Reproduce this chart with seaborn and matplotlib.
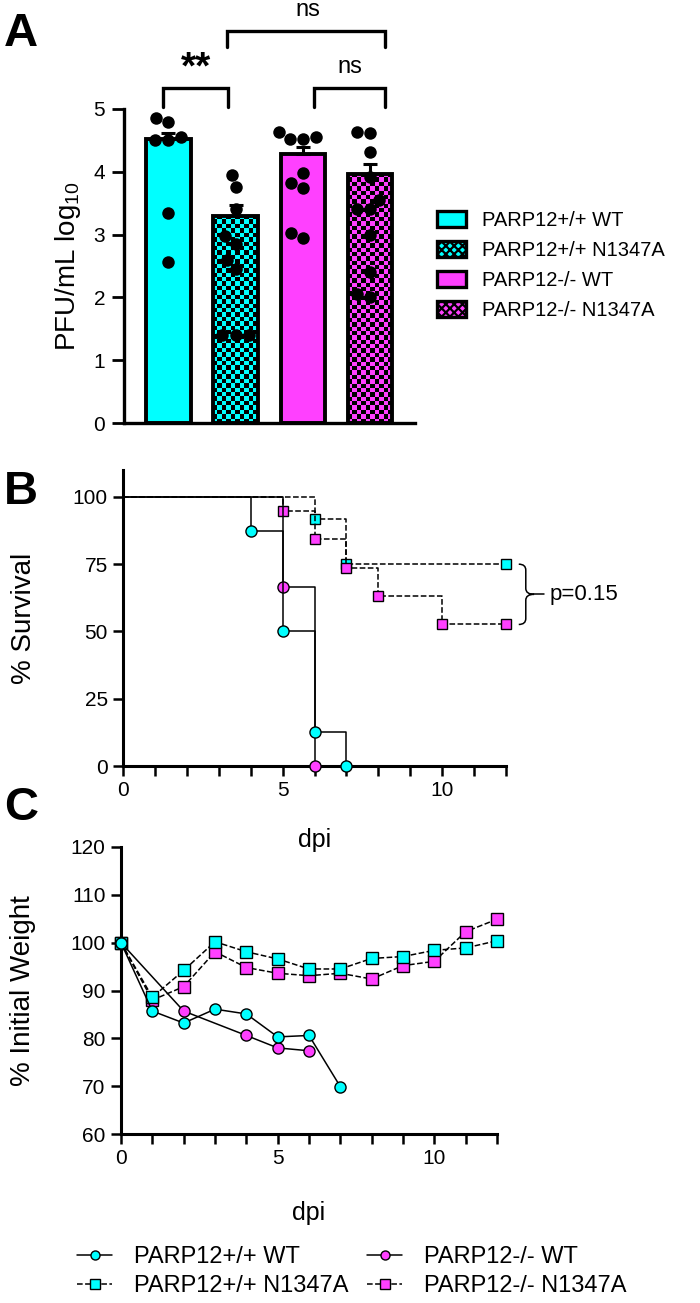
import numpy as np
import matplotlib

matplotlib.use("Agg")

import matplotlib.pyplot as plt
import seaborn as sns
from matplotlib.colors import ListedColormap
from matplotlib.lines import Line2D
from matplotlib.patches import Patch, PathPatch
from matplotlib.path import Path

sns.set_style("ticks")
plt.rcParams["font.family"] = ["Liberation Sans", "DejaVu Sans"]
plt.rcParams["mathtext.default"] = "regular"
plt.rcParams["hatch.linewidth"] = 1.6
for key in ("text.color", "axes.labelcolor", "xtick.color", "ytick.color", "axes.edgecolor"):
    plt.rcParams[key] = "black"

CYAN = "#00FFFF"
MAGENTA = "#FF40FF"

# Panel A: viral titers
groups = ["PARP12+/+ WT", "PARP12+/+ N1347A", "PARP12-/- WT", "PARP12-/- N1347A"]
bar_colors = [CYAN, CYAN, MAGENTA, MAGENTA]
bar_checker = [False, True, False, True]
bar_means = [4.52, 3.30, 4.28, 3.97]
bar_sem = [0.10, 0.17, 0.12, 0.15]
pts_wt = [4.85, 4.80, 4.55, 4.50, 4.50, 3.34, 2.57]
pts_wt_mut = [3.95, 3.76, 3.40, 2.97, 2.85, 2.60, 2.45, 1.40, 1.40, 1.40]
pts_ko = [4.64, 4.56, 4.53, 4.52, 3.98, 3.82, 3.74, 3.02, 2.94]
pts_ko_mut = [4.64, 4.61, 4.32, 3.92, 3.55, 3.40, 3.40, 3.00, 2.40, 2.05, 2.00]

# Panel B: Kaplan-Meier survival
surv_wt_day = [0, 4, 5, 6, 7]
surv_wt_pct = [100, 87.5, 50, 12.5, 0]
surv_ko_day = [0, 5, 6]
surv_ko_pct = [100, 66.7, 0]
surv_wt_mut_day = [0, 6, 7, 12]
surv_wt_mut_pct = [100, 91.7, 75, 75]
surv_ko_mut_day = [0, 5, 6, 7, 8, 10, 12]
surv_ko_mut_pct = [100, 94.7, 84.2, 73.7, 63.2, 52.6, 52.6]

# Panel C: weight loss
wt_day = [0, 1, 2, 3, 4, 5, 6, 7]
wt_weight = [100, 85.7, 83.2, 86.1, 85.1, 80.3, 80.6, 69.9]
ko_day = [0, 2, 4, 5, 6]
ko_weight = [100, 85.7, 80.6, 78.0, 77.4]
wt_mut_day = [0, 1, 2, 3, 4, 5, 6, 7, 8, 9, 10, 11, 12]
wt_mut_weight = [100, 88.6, 94.2, 100.2, 98.1, 96.6, 94.5, 94.5, 96.7, 97.1, 98.4, 98.9, 100.4]
ko_mut_day = [0, 1, 2, 3, 4, 5, 6, 7, 8, 9, 10, 11, 12]
ko_mut_weight = [100, 88.0, 90.8, 98.1, 94.8, 93.6, 93.1, 93.6, 92.4, 95.2, 96.1, 102.3, 104.9]

W, H = 700, 1303
fig = plt.figure(figsize=(W / 100, H / 100), dpi=100)


def axes_px(left, right, top, bottom):
    ax = fig.add_axes([left / W, 1 - bottom / H, (right - left) / W, (bottom - top) / H])
    ax.patch.set_visible(False)
    return ax


TICK_FS = 15
LABEL_FS = 20

# ---------------- Panel A ----------------
ax_a = axes_px(124, 415, 109, 423)
sns.barplot(x=groups, y=bar_means, hue=groups, palette=bar_colors, order=groups,
            legend=False, errorbar=None, edgecolor="black", linewidth=2.8,
            width=0.66, saturation=1, ax=ax_a)
bars = list(ax_a.patches[:4])
for bar, color, checker in zip(bars, bar_colors, bar_checker):
    bar.set_zorder(2)
    if checker:
        x0, y0, w, h = bar.get_x(), bar.get_y(), bar.get_width(), bar.get_height()
        ncol = int(round(w * 67 / 4.4))
        nrow = int(round(h * 62.8 / 4.4))
        board = np.add.outer(np.arange(nrow), np.arange(ncol)) % 2
        ax_a.imshow(board, extent=(x0, x0 + w, y0, y0 + h), origin="lower",
                    cmap=ListedColormap([color, "black"]), interpolation="nearest",
                    aspect="auto", zorder=1.5)
        bar.set_facecolor("none")

ax_a.errorbar(x=np.arange(4), y=bar_means, yerr=[np.zeros(4), bar_sem], fmt="none",
              ecolor="black", elinewidth=2.2, capsize=4.7, capthick=2.2, zorder=2.5)

pt_group = (["PARP12+/+ WT"] * len(pts_wt) + ["PARP12+/+ N1347A"] * len(pts_wt_mut)
            + ["PARP12-/- WT"] * len(pts_ko) + ["PARP12-/- N1347A"] * len(pts_ko_mut))
pt_vals = pts_wt + pts_wt_mut + pts_ko + pts_ko_mut
sns.swarmplot(x=pt_group, y=pt_vals, order=groups, color="black", size=9,
              ax=ax_a, zorder=3)

ax_a.set_xlim(-0.66, 3.67)
ax_a.set_ylim(0, 5)
ax_a.set_yticks([0, 1, 2, 3, 4, 5])
ax_a.set_xticks([])
ax_a.set_xlabel("")
ax_a.set_ylabel("PFU/mL log$_{10}$", fontsize=LABEL_FS)
ax_a.yaxis.set_label_coords(-0.14, 0.5)
ax_a.tick_params(axis="y", length=8.5, width=2, labelsize=TICK_FS, pad=5)
sns.despine(ax=ax_a)
for s in ("left", "bottom"):
    ax_a.spines[s].set_linewidth(2.4)


def bracket(ax, x1, x2, ytop, ylow):
    ax.plot([x1, x1, x2, x2], [ylow, ytop, ytop, ylow], color="black", lw=2.4,
            clip_on=False, solid_joinstyle="miter")


bracket(ax_a, -0.08, 0.89, 5.33, 5.03)
bracket(ax_a, 2.16, 3.23, 5.33, 5.03)
bracket(ax_a, 0.87, 3.23, 6.24, 5.99)
ax_a.text(0.41, 5.64, "**", ha="center", va="center", fontsize=28, weight="bold")
ax_a.text(2.70, 5.67, "ns", ha="center", va="center", fontsize=17)
ax_a.text(2.07, 6.48, "ns", ha="center", va="baseline", fontsize=17)

leg_handles = []
for color, checker in zip(bar_colors, bar_checker):
    leg_handles.append(Patch(facecolor=color, edgecolor="black", linewidth=2.4,
                             hatch="xxxx" if checker else None))
ax_a.legend(leg_handles, groups, loc="upper left", bbox_to_anchor=(437 / W, 1 - 211 / H),
            bbox_transform=fig.transFigure, frameon=False, fontsize=14.5,
            handlelength=1.45, handleheight=0.85, handletextpad=0.8,
            labelspacing=0.55, borderpad=0, borderaxespad=0)

# ---------------- Panel B ----------------
ax_b = axes_px(123, 506, 470, 766)
line_kw = dict(color="black", lw=1.1, errorbar=None, clip_on=False, ax=ax_b)
sns.lineplot(x=surv_wt_mut_day, y=surv_wt_mut_pct, drawstyle="steps-post", linestyle="--",
             marker="s", ms=7.5, mfc=CYAN, mec="black", mew=1,
             markevery=list(range(1, len(surv_wt_mut_day))), zorder=3, **line_kw)
sns.lineplot(x=surv_ko_mut_day, y=surv_ko_mut_pct, drawstyle="steps-post", linestyle="--",
             marker="s", ms=7.5, mfc=MAGENTA, mec="black", mew=1,
             markevery=list(range(1, len(surv_ko_mut_day))), zorder=3, **line_kw)
sns.lineplot(x=surv_ko_day, y=surv_ko_pct, drawstyle="steps-post", linestyle="-",
             marker="o", ms=8, mfc=MAGENTA, mec="black", mew=1,
             markevery=list(range(1, len(surv_ko_day))), zorder=4, **line_kw)
sns.lineplot(x=surv_wt_day, y=surv_wt_pct, drawstyle="steps-post", linestyle="-",
             marker="o", ms=8, mfc=CYAN, mec="black", mew=1,
             markevery=list(range(1, len(surv_wt_day))), zorder=4, **line_kw)
ax_b.set_xlim(0, 12)
ax_b.set_ylim(0, 110)
ax_b.set_yticks([0, 25, 50, 75, 100])
ax_b.set_xticks(range(13))
ax_b.set_xticklabels([str(d) if d % 5 == 0 else "" for d in range(13)])
ax_b.set_xlabel("dpi", fontsize=18)
ax_b.set_ylabel("% Survival", fontsize=LABEL_FS)
ax_b.xaxis.set_label_coords(0.5, -0.21)
ax_b.yaxis.set_label_coords(-0.225, 0.5)

# curly brace for the p value
bx0, bx1, bx2 = 12.4, 12.62, 12.88
yt, yb = 75, 52.6
ym, r = (yt + yb) / 2, 2.2
brace = Path([(bx0, yt), (bx1, yt), (bx1, yt - r), (bx1, ym + r), (bx1, ym), (bx2, ym),
              (bx1, ym), (bx1, ym - r), (bx1, yb + r), (bx1, yb), (bx0, yb)],
             [Path.MOVETO, Path.CURVE3, Path.CURVE3, Path.LINETO, Path.CURVE3, Path.CURVE3,
              Path.CURVE3, Path.CURVE3, Path.LINETO, Path.CURVE3, Path.CURVE3])
ax_b.add_patch(PathPatch(brace, facecolor="none", edgecolor="black", lw=1.1, clip_on=False))
ax_b.plot([bx2, 13.2], [ym, ym], color="black", lw=1.1, clip_on=False)
ax_b.text(13.35, ym, "p=0.15", fontsize=16, va="center", ha="left")

# ---------------- Panel C ----------------
ax_c = axes_px(121, 497, 847, 1134)
line_kw["ax"] = ax_c
sns.lineplot(x=ko_mut_day, y=ko_mut_weight, linestyle="--", marker="s", ms=8,
             mfc=MAGENTA, mec="black", mew=1, zorder=3, **line_kw)
sns.lineplot(x=wt_mut_day, y=wt_mut_weight, linestyle="--", marker="s", ms=8,
             mfc=CYAN, mec="black", mew=1, zorder=3, **line_kw)
sns.lineplot(x=ko_day, y=ko_weight, linestyle="-", marker="o", ms=8,
             mfc=MAGENTA, mec="black", mew=1, zorder=4, **line_kw)
sns.lineplot(x=wt_day, y=wt_weight, linestyle="-", marker="o", ms=8,
             mfc=CYAN, mec="black", mew=1, zorder=4, **line_kw)
ax_c.set_xlim(0, 12)
ax_c.set_ylim(60, 120)
ax_c.set_yticks(range(60, 121, 10))
ax_c.set_xticks(range(13))
ax_c.set_xticklabels([str(d) if d % 5 == 0 else "" for d in range(13)])
ax_c.set_xlabel("dpi", fontsize=18)
ax_c.set_ylabel("% Initial Weight", fontsize=LABEL_FS)
ax_c.xaxis.set_label_coords(0.5, -0.235)
ax_c.yaxis.set_label_coords(-0.225, 0.5)

for ax in (ax_b, ax_c):
    sns.despine(ax=ax)
    for s in ("left", "bottom"):
        ax.spines[s].set_linewidth(2.2)
    ax.tick_params(length=7, width=1.8, labelsize=TICK_FS, pad=4)

# bottom legend
legend_lines = [
    Line2D([], [], color="black", lw=1.1, ls="-", marker="o", ms=6.5, mfc=CYAN, mec="black"),
    Line2D([], [], color="black", lw=1.1, ls="--", marker="s", ms=6.5, mfc=CYAN, mec="black"),
    Line2D([], [], color="black", lw=1.1, ls="-", marker="o", ms=6.5, mfc=MAGENTA, mec="black"),
    Line2D([], [], color="black", lw=1.1, ls="--", marker="s", ms=6.5, mfc=MAGENTA, mec="black"),
]
fig.legend(legend_lines, [groups[0], groups[1], groups[2], groups[3]], ncol=2,
           loc="upper left", bbox_to_anchor=(77 / W, 1 - 1246 / H), frameon=False,
           fontsize=17, handlelength=1.5, handletextpad=0.9, columnspacing=0.8,
           labelspacing=0.3, borderpad=0, borderaxespad=0)

# panel letters
for letter, ytop in (("A", 12), ("B", 470), ("C", 786)):
    fig.text(4 / W, 1 - ytop / H, letter, fontsize=34, weight="bold", va="top", ha="left")

fig.savefig("out.png", dpi=100)
